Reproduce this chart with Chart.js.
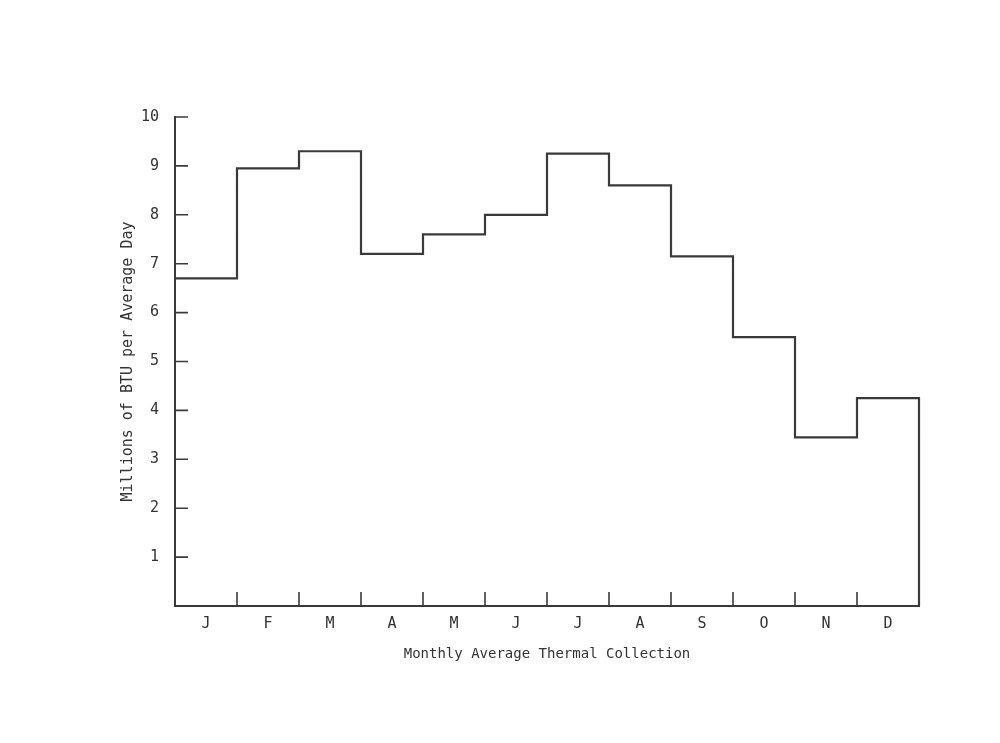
<!DOCTYPE html>
<html lang="en">
<head>
    <meta charset="UTF-8">
    <title>Monthly Average Thermal Collection</title>
    <script src="https://cdn.jsdelivr.net/npm/chart.js"></script>
    <style>
        html, body {
            margin: 0;
            padding: 0;
            background: #ffffff;
        }

        .chart-container {
            width: 1000px;
            height: 743px;
        }
    </style>
</head>
<body>
    <div class="chart-container">
        <canvas id="thermal-chart"></canvas>
    </div>

    <script>
        // Months and collected energy (millions of BTU per average day)
        const months = ['J', 'F', 'M', 'A', 'M', 'J', 'J', 'A', 'S', 'O', 'N', 'D'];
        const btuValues = [6.7, 8.95, 9.3, 7.2, 7.6, 8.0, 9.25, 8.6, 7.15, 5.5, 3.45, 4.25];
        const yTicks = [1, 2, 3, 4, 5, 6, 7, 8, 9, 10];

        const ink = '#3a3a3a';
        const family = "'DejaVu Sans Mono', monospace";

        // Step outline: one point per month start, then close down at the year end
        function buildSteps() {
            const pts = btuValues.map((v, i) => ({ x: i, y: v }));
            const last = btuValues[btuValues.length - 1];
            pts.push({ x: months.length, y: last });
            pts.push({ x: months.length, y: 0 });
            return pts;
        }

        // Short tick marks pointing into the plot, like the original drawing
        const inwardTicks = {
            id: 'inwardTicks',
            afterDraw(chart) {
                const { ctx, chartArea, scales } = chart;
                ctx.save();
                ctx.strokeStyle = ink;
                ctx.lineWidth = 1.6;
                ctx.beginPath();
                for (let i = 1; i < months.length; i++) {
                    const x = scales.x.getPixelForValue(i);
                    ctx.moveTo(x, chartArea.bottom);
                    ctx.lineTo(x, chartArea.bottom - 14);
                }
                yTicks.forEach(t => {
                    const y = scales.y.getPixelForValue(t);
                    ctx.moveTo(chartArea.left, y);
                    ctx.lineTo(chartArea.left + 13, y);
                });
                ctx.stroke();
                ctx.restore();
            }
        };

        function initializeChart() {
            const ctx = document.getElementById('thermal-chart').getContext('2d');
            new Chart(ctx, {
                type: 'line',
                data: {
                    datasets: [{
                        data: buildSteps(),
                        borderColor: ink,
                        borderWidth: 2.2,
                        pointRadius: 0,
                        stepped: true,
                        fill: false,
                        clip: false
                    }]
                },
                options: {
                    responsive: true,
                    maintainAspectRatio: false,
                    animation: false,
                    layout: { padding: { top: 117, right: 81, left: 0, bottom: 0 } },
                    plugins: {
                        legend: { display: false },
                        tooltip: { enabled: false }
                    },
                    scales: {
                        x: {
                            type: 'linear',
                            min: 0,
                            max: months.length,
                            grid: { display: false },
                            border: { display: true, color: ink, width: 2 },
                            afterBuildTicks: scale => {
                                scale.ticks = months.map((m, i) => ({ value: i + 0.5 }));
                            },
                            afterFit: scale => { scale.height = 137; },
                            ticks: {
                                autoSkip: false,
                                maxRotation: 0,
                                padding: 1,
                                color: '#333',
                                font: { family: family, size: 15 },
                                callback: (value, index) => months[index]
                            },
                            title: {
                                display: true,
                                text: 'Monthly Average Thermal Collection',
                                color: '#333',
                                font: { family: family, size: 14 },
                                padding: { top: 0, bottom: 80 }
                            }
                        },
                        y: {
                            min: 0,
                            max: 10,
                            grid: { display: false },
                            border: { display: true, color: ink, width: 2 },
                            afterBuildTicks: scale => {
                                scale.ticks = yTicks.map(v => ({ value: v }));
                            },
                            afterFit: scale => { scale.width = 175; },
                            ticks: {
                                padding: 8,
                                color: '#333',
                                font: { family: family, size: 15 }
                            },
                            title: {
                                display: true,
                                text: 'Millions of BTU per Average Day',
                                color: '#333',
                                font: { family: family, size: 15 },
                                padding: { top: 119, bottom: 0 }
                            }
                        }
                    }
                },
                plugins: [inwardTicks]
            });
        }

        window.onload = initializeChart;
    </script>
</body>
</html>
